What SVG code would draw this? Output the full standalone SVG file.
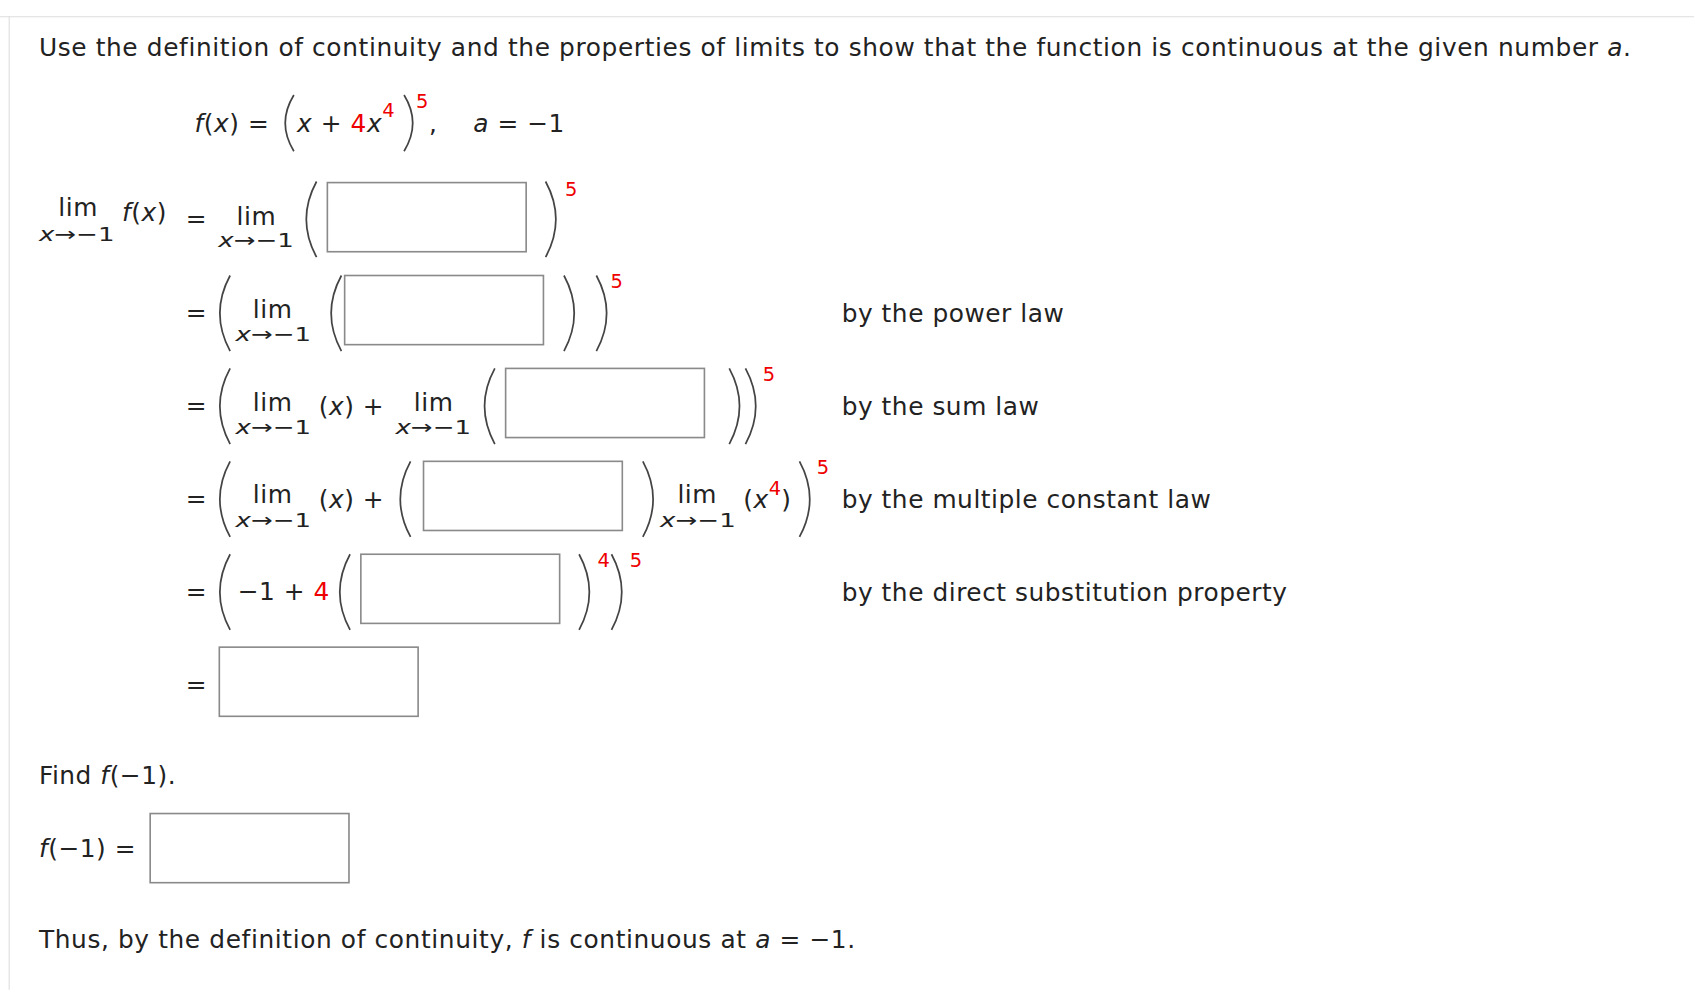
<svg xmlns="http://www.w3.org/2000/svg" width="1694" height="990" viewBox="0 0 1694 990">
<style>
text{font-family:"DejaVu Sans","Liberation Sans",sans-serif;font-size:23px;letter-spacing:0.5px;fill:#222}
.s{font-size:18px;letter-spacing:0}
.r{fill:#e00}
.i{font-style:italic}
.b{fill:#fff;stroke:#8a8a8a;stroke-width:1.5}
.p{fill:none;stroke:#444;stroke-width:1.6}
</style>
<rect width="1694" height="990" fill="#fff"/>
<g transform="scale(1.0804)">
<line x1="0" y1="15.5" x2="1568" y2="15.5" stroke="#ddd"/>
<line x1="8.5" y1="15" x2="8.5" y2="916" stroke="#ddd"/>
<g id="title"><text x="36" y="52" textLength="1474">Use the definition of continuity and the properties of limits to show that the function is continuous at the given number <tspan class="i">a</tspan>.</text></g>
<g id="fx">
<text x="180" y="122"><tspan class="i">f</tspan>(<tspan class="i">x</tspan>) =</text>
<path class="p" d="M272 88 Q256 114 272 140"/>
<text x="275" y="122"><tspan class="i">x</tspan> + <tspan class="r">4</tspan><tspan class="i">x</tspan><tspan class="s r" dy="-14">4</tspan></text>
<path class="p" d="M374 88 Q390 114 374 140"/>
<text x="385" y="100" class="s r">5</text>
<text x="397" y="122">,</text>
<text x="438" y="122"><tspan class="i">a</tspan> = −1</text>
</g>
<g id="row1">
<text x="54" y="200">lim</text><text x="36" y="223" class="s" textLength="70" lengthAdjust="spacingAndGlyphs"><tspan class="i">x</tspan>→−1</text>
<text x="113" y="205"><tspan class="i">f</tspan>(<tspan class="i">x</tspan>)</text>
<text x="172" y="210">=</text>
<text x="219" y="208">lim</text><text x="202" y="229" class="s" textLength="70" lengthAdjust="spacingAndGlyphs"><tspan class="i">x</tspan>→−1</text>
<path class="p" d="M293 168 Q274 203 293 238"/>
<rect class="b" x="303" y="169" width="184" height="64"/>
<path class="p" d="M505 168 Q524 203 505 238"/>
<text x="523" y="181" class="s r">5</text>
</g>
<g id="row2">
<text x="172" y="297">=</text>
<path class="p" d="M213 255 Q194 290 213 325"/>
<text x="234" y="294">lim</text><text x="218" y="316" class="s" textLength="70" lengthAdjust="spacingAndGlyphs"><tspan class="i">x</tspan>→−1</text>
<path class="p" d="M316 255 Q297 290 316 325"/>
<rect class="b" x="319" y="255" width="184" height="64"/>
<path class="p" d="M522 255 Q541 290 522 325"/>
<path class="p" d="M552 255 Q571 290 552 325"/>
<text x="565" y="267" class="s r">5</text>
<text x="779" y="298">by the power law</text>
</g>
<g id="row3">
<text x="172" y="383">=</text>
<path class="p" d="M213 341 Q194 376 213 411"/>
<text x="234" y="380">lim</text><text x="218" y="402" class="s" textLength="70" lengthAdjust="spacingAndGlyphs"><tspan class="i">x</tspan>→−1</text>
<text x="295" y="384">(<tspan class="i">x</tspan>) +</text>
<text x="383" y="380">lim</text><text x="366" y="402" class="s" textLength="70" lengthAdjust="spacingAndGlyphs"><tspan class="i">x</tspan>→−1</text>
<path class="p" d="M458 341 Q439 376 458 411"/>
<rect class="b" x="468" y="341" width="184" height="64"/>
<path class="p" d="M675 341 Q694 376 675 411"/>
<path class="p" d="M690 341 Q709 376 690 411"/>
<text x="706" y="353" class="s r">5</text>
<text x="779" y="384">by the sum law</text>
</g>
<g id="row4">
<text x="172" y="469">=</text>
<path class="p" d="M213 427 Q194 462 213 497"/>
<text x="234" y="466">lim</text><text x="218" y="488" class="s" textLength="70" lengthAdjust="spacingAndGlyphs"><tspan class="i">x</tspan>→−1</text>
<text x="295" y="470">(<tspan class="i">x</tspan>) +</text>
<path class="p" d="M380 427 Q361 462 380 497"/>
<rect class="b" x="392" y="427" width="184" height="64"/>
<path class="p" d="M595 427 Q614 462 595 497"/>
<text x="627" y="466">lim</text><text x="611" y="488" class="s" textLength="70" lengthAdjust="spacingAndGlyphs"><tspan class="i">x</tspan>→−1</text>
<text x="688" y="470">(<tspan class="i">x</tspan><tspan class="s r" dy="-12">4</tspan><tspan dy="12">)</tspan></text>
<path class="p" d="M740 427 Q759 462 740 497"/>
<text x="756" y="439" class="s r">5</text>
<text x="779" y="470">by the multiple constant law</text>
</g>
<g id="row5">
<text x="172" y="555">=</text>
<path class="p" d="M213 513 Q194 548 213 583"/>
<text x="220" y="555">−1 + <tspan class="r">4</tspan></text>
<path class="p" d="M324 513 Q305 548 324 583"/>
<rect class="b" x="334" y="513" width="184" height="64"/>
<path class="p" d="M536 513 Q555 548 536 583"/>
<text x="553" y="525" class="s r">4</text>
<path class="p" d="M566 513 Q585 548 566 583"/>
<text x="583" y="525" class="s r">5</text>
<text x="779" y="556">by the direct substitution property</text>
</g>
<g id="row6">
<text x="172" y="641">=</text>
<rect class="b" x="203" y="599" width="184" height="64"/>
</g>
<g id="find">
<text x="36" y="726">Find <tspan class="i">f</tspan>(−1).</text>
<text x="36" y="793"><tspan class="i">f</tspan>(−1) =</text>
<rect class="b" x="139" y="753" width="184" height="64"/>
</g>
<g id="thus"><text x="36" y="877" textLength="756">Thus, by the definition of continuity, <tspan class="i">f</tspan> is continuous at <tspan class="i">a</tspan> = −1.</text></g>
<g id="connectors"/>
</g>
</svg>
